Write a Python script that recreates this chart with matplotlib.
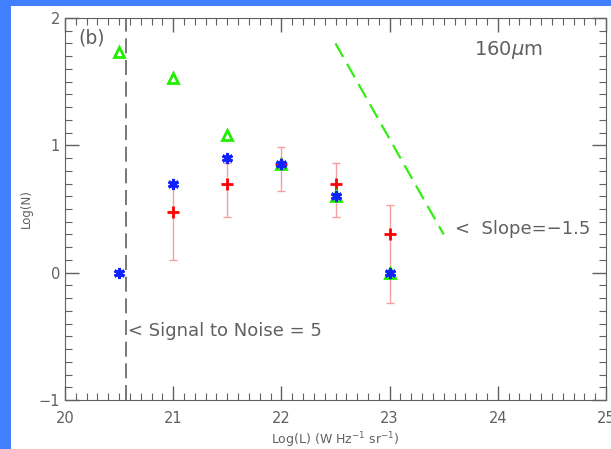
import matplotlib
matplotlib.use("Agg")
import matplotlib.pyplot as plt
from matplotlib.patches import Rectangle
from matplotlib.ticker import MultipleLocator

# luminance bins, log(L)
logL = [20.5, 21.0, 21.5, 22.0, 22.5, 23.0]

# three estimates of log(N) per bin
tri_N = [1.73, 1.53, 1.08, 0.85, 0.60, 0.00]
ast_N = [0.00, 0.70, 0.90, 0.85, 0.60, 0.00]

# red points with asymmetric errors (no entry at 20.5)
red_L = [21.0, 21.5, 22.0, 22.5, 23.0]
red_N = [0.48, 0.70, 0.85, 0.70, 0.30]
red_lo = [0.10, 0.44, 0.64, 0.44, -0.24]
red_hi = [0.70, 0.86, 0.99, 0.86, 0.53]

# reference slope line and S/N cut
slope_L = [22.5, 23.5]
slope_N = [1.80, 0.30]
sn_cut = 20.56

gray = "#606060"

fig = plt.figure(figsize=(6.11, 4.49), dpi=100)
fig.patch.set_facecolor("#4080ff")
fig.add_artist(Rectangle((11 / 611, 0), 1, 1 - 6 / 449, transform=fig.transFigure,
                         facecolor="white", edgecolor="none", zorder=0))

ax = fig.add_axes([65 / 611, 1 - 400 / 449, (606 - 65) / 611, (400 - 18) / 449])
ax.set_facecolor("white")

ax.axvline(sn_cut, color=gray, lw=1.2, dashes=(9, 4))
ax.plot(slope_L, slope_N, color="#33ee11", lw=1.6, dashes=(7, 3.5))

yerr = [[n - l for n, l in zip(red_N, red_lo)], [h - n for n, h in zip(red_N, red_hi)]]
ax.errorbar(red_L, red_N, yerr=yerr, fmt="none", ecolor="#f4a0a0", elinewidth=1.0,
            capsize=3, capthick=1.0, zorder=2)
ax.plot(red_L, red_N, "+", color="red", ms=9, mew=2, zorder=3)
ax.plot(logL, tri_N, "^", mfc="none", mec="#22ee00", ms=7, mew=2, zorder=4)
ax.plot(logL, ast_N, marker=(6, 2, 0), ls="none", color="#1020ff", ms=8, mew=2.2, zorder=5)

ax.text(20.12, 1.84, "(b)", color=gray, fontsize=13.5, va="center")
ax.text(23.78, 1.75, r"160$\mu$m", color=gray, fontsize=14, va="center")
ax.text(23.6, 0.34, "<  Slope=−1.5", color=gray, fontsize=13, va="center")
ax.text(20.58, -0.46, "< Signal to Noise = 5", color=gray, fontsize=13, va="center")

ax.set_xlim(20, 25)
ax.set_ylim(-1, 2)
ax.xaxis.set_major_locator(MultipleLocator(1))
ax.xaxis.set_minor_locator(MultipleLocator(0.1))
ax.yaxis.set_major_locator(MultipleLocator(1))
ax.yaxis.set_minor_locator(MultipleLocator(0.1))
ax.tick_params(which="both", direction="in", top=True, right=True, colors=gray,
               labelcolor=gray, labelsize=10.5)
ax.tick_params(which="major", length=10, width=1)
ax.tick_params(which="minor", length=5, width=0.8)
ax.tick_params(axis="x", which="major", pad=8)
for s in ax.spines.values():
    s.set_color(gray)
ax.set_xlabel(r"Log(L) (W Hz$^{-1}$ sr$^{-1}$)", color=gray, fontsize=9, labelpad=3)
ax.set_ylabel("Log(N)", color=gray, fontsize=8.5, labelpad=4)

fig.savefig("out.png", dpi=100)
